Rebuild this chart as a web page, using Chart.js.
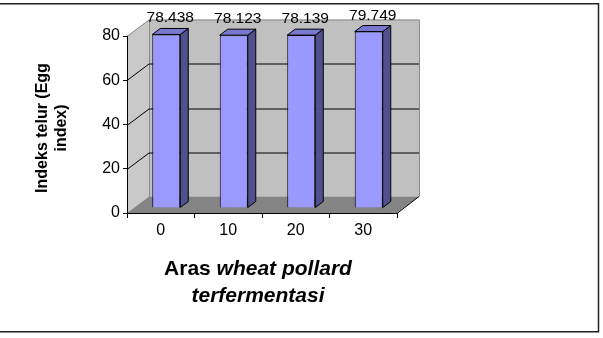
<!DOCTYPE html>
<html><head><meta charset="utf-8">
<script src="https://cdn.jsdelivr.net/npm/chart.js@4.4.0/dist/chart.umd.min.js"></script>
<style>html,body{margin:0;padding:0;background:#fff;}#wrap{position:relative;width:603px;height:338px;}canvas{display:block;}</style>
</head><body><div id="wrap"><canvas id="c" width="603" height="338"></canvas></div>
<script>
// ---- data ----
const categories = ['0', '10', '20', '30'];
const values = [78.438, 78.123, 78.139, 79.749];
const valueLabels = ['78.438', '78.123', '78.139', '79.749'];
const yTickStep = 20;
const yMin = 0;
const yMax = 80;
const yTitleLines = ['Indeks telur (Egg', 'index)'];
const xTitleLine1 = [['Aras ', false], ['wheat pollard', true]];
const xTitleLine2 = [['terfermentasi', true]];

// ---- 3D look ----
const FONT = '"Liberation Sans", Arial, sans-serif';
const DX = 22, DY = -16.5;      // depth of walls
const SX = 5.5, SY = -5;        // bar position inside depth
const BDX = 8, BDY = -6;        // bar depth

const threeD = {
  id: 'threeD',
  beforeDraw(chart) {
    const ctx = chart.ctx, a = chart.chartArea, yS = chart.scales.y;
    const L = a.left, R = a.right, T = a.top, B = a.bottom;
    ctx.save();
    ctx.fillStyle = '#c9c9c9';
    ctx.beginPath();
    ctx.moveTo(L, T); ctx.lineTo(L + DX, T + DY); ctx.lineTo(L + DX, B + DY); ctx.lineTo(L, B); ctx.closePath();
    ctx.fill();
    ctx.fillStyle = '#c0c0c0';
    ctx.fillRect(L + DX, T + DY, R - L, B - T);
    ctx.fillStyle = '#848484';
    ctx.beginPath();
    ctx.moveTo(L, B); ctx.lineTo(R, B); ctx.lineTo(R + DX, B + DY); ctx.lineTo(L + DX, B + DY); ctx.closePath();
    ctx.fill();
    ctx.lineWidth = 1;
    ctx.strokeStyle = '#8a8a8a';
    ctx.beginPath();
    ctx.moveTo(L + DX + 0.5, B + DY); ctx.lineTo(L + DX + 0.5, T + DY + 0.5);
    ctx.lineTo(R + DX + 0.5, T + DY + 0.5); ctx.lineTo(R + DX + 0.5, B + DY);
    ctx.moveTo(L, T + 0.5); ctx.lineTo(L + DX, T + DY + 0.5);
    ctx.stroke();
    ctx.strokeStyle = '#000';
    for (let v = yMin + yTickStep; v < yMax; v += yTickStep) {
      const y = Math.round(yS.getPixelForValue(v)) + 0.5;
      ctx.beginPath();
      ctx.moveTo(L, y); ctx.lineTo(L + DX, y + DY); ctx.lineTo(R + DX, y + DY);
      ctx.stroke();
    }
    ctx.beginPath();
    ctx.moveTo(R, B + 0.5); ctx.lineTo(R + DX, B + DY);
    ctx.stroke();
    ctx.restore();
  },
  beforeDatasetsDraw(chart) {
    chart.ctx.save();
    chart.ctx.translate(SX, SY);
  },
  afterDatasetsDraw(chart) {
    const ctx = chart.ctx;
    const meta = chart.getDatasetMeta(0);
    ctx.lineWidth = 1;
    ctx.strokeStyle = '#000';
    meta.data.forEach(bar => {
      const p = bar.getProps(['x', 'y', 'base', 'width'], true);
      const l = p.x - p.width / 2, r = p.x + p.width / 2;
      ctx.fillStyle = '#50508f';
      ctx.beginPath();
      ctx.moveTo(r, p.y); ctx.lineTo(r + BDX, p.y + BDY); ctx.lineTo(r + BDX, p.base + BDY); ctx.lineTo(r, p.base); ctx.closePath();
      ctx.fill(); ctx.stroke();
      ctx.fillStyle = '#7878d0';
      ctx.beginPath();
      ctx.moveTo(l, p.y); ctx.lineTo(l + BDX, p.y + BDY); ctx.lineTo(r + BDX, p.y + BDY); ctx.lineTo(r, p.y); ctx.closePath();
      ctx.fill(); ctx.stroke();
    });
    ctx.restore();
    ctx.save();
    ctx.fillStyle = '#000';
    ctx.font = '15.5px ' + FONT;
    ctx.textAlign = 'center';
    ctx.textBaseline = 'alphabetic';
    meta.data.forEach((bar, i) => {
      const p = bar.getProps(['x', 'y'], true);
      ctx.fillText(valueLabels[i], p.x + SX + BDX / 2, p.y + SY + BDY - 6);
    });
    ctx.restore();
  },
  afterDraw(chart) {
    const ctx = chart.ctx;
    ctx.save();
    ctx.fillStyle = '#000';
    ctx.font = 'bold 16px ' + FONT;
    ctx.textAlign = 'center';
    ctx.textBaseline = 'alphabetic';
    const yc = 128;
    [46.5, 65.5].forEach((bx, i) => {
      ctx.save();
      ctx.translate(bx, yc);
      ctx.rotate(-Math.PI / 2);
      ctx.fillText(yTitleLines[i], 0, 0);
      ctx.restore();
    });
    const cx = 258;
    const drawLine = (parts, baseY) => {
      const fonts = parts.map(p => (p[1] ? 'italic ' : '') + 'bold 21px ' + FONT);
      let total = 0;
      const widths = parts.map((p, i) => { ctx.font = fonts[i]; const w = ctx.measureText(p[0]).width; total += w; return w; });
      let x = cx - total / 2;
      ctx.textAlign = 'left';
      parts.forEach((p, i) => { ctx.font = fonts[i]; ctx.fillText(p[0], x, baseY); x += widths[i]; });
    };
    drawLine(xTitleLine1, 275);
    drawLine(xTitleLine2, 302);
    ctx.lineWidth = 1.5;
    ctx.strokeStyle = '#222';
    ctx.strokeRect(-3, 3.75, 601.5, 328);
    ctx.restore();
  }
};

new Chart(document.getElementById('c'), {
  type: 'bar',
  data: {
    labels: categories,
    datasets: [{
      data: values,
      backgroundColor: '#9999ff',
      borderColor: '#000',
      borderWidth: 1,
      barPercentage: 0.415,
      categoryPercentage: 1,
      clip: false
    }]
  },
  options: {
    responsive: false,
    animation: false,
    events: [],
    devicePixelRatio: 1,
    layout: { padding: { left: 0, top: 36, right: 206, bottom: 95 } },
    plugins: { legend: { display: false }, tooltip: { enabled: false }, title: { display: false } },
    scales: {
      x: {
        afterFit(s) { s.height = 30; },
        grid: { display: true, drawOnChartArea: false, drawTicks: true, tickLength: 5, color: '#000', offset: true },
        border: { display: true, color: '#000', width: 1 },
        ticks: { color: '#000', font: { family: FONT, size: 16 }, padding: 3, maxRotation: 0 }
      },
      y: {
        min: yMin, max: yMax,
        afterFit(s) { s.width = 127; },
        grid: { display: true, drawOnChartArea: false, drawTicks: true, tickLength: 4, color: '#000' },
        border: { display: true, color: '#000', width: 1 },
        ticks: { stepSize: yTickStep, color: '#000', font: { family: FONT, size: 16 }, padding: 3 }
      }
    }
  },
  plugins: [threeD]
});
</script>
</body></html>
